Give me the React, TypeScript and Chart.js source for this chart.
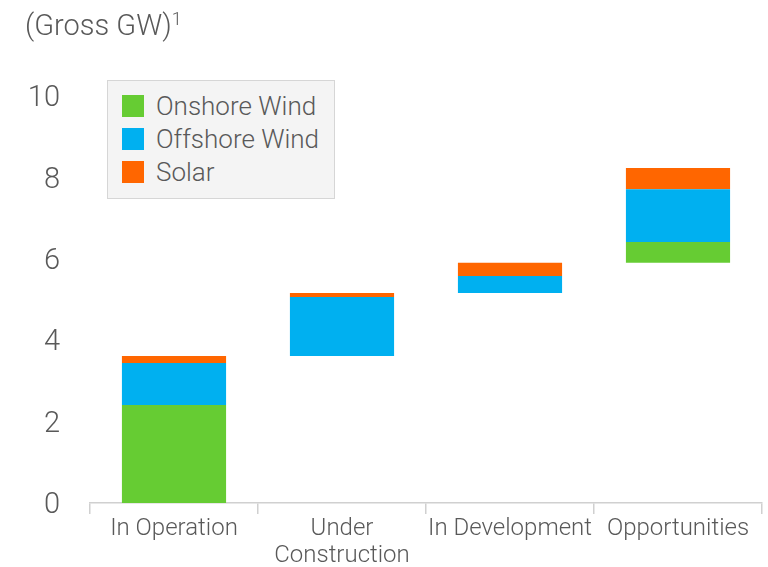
import React, { useEffect, useRef } from "react";
import { Chart, registerables } from "chart.js";

Chart.register(...registerables);

const categories: (string | string[])[] = ["In Operation", ["Under", "Construction"], "In Development", "Opportunities"];
const seriesNames = ["Onshore Wind", "Offshore Wind", "Solar"];
const onshore = [2.41, 0, 0, 0.51];
const offshore = [1.03, 1.45, 0.42, 1.3];
const solar = [0.17, 0.1, 0.32, 0.52];
const yTicks = [0, 2, 4, 6, 8, 10];
const colors = ["#66CC33", "#00B0F0", "#FF6600"];

const TEXT = "#595959";
const FONT = "Roboto, 'Liberation Sans', Arial, sans-serif";

function buildRanges() {
  const series = [onshore, offshore, solar];
  const out: (number[] | null)[][] = series.map(() => []);
  let base = 0;
  for (let i = 0; i < categories.length; i++) {
    let cur = base;
    series.forEach((s, k) => {
      const v = s[i];
      out[k].push(v > 0 ? [cur, cur + v] : null);
      cur += v;
    });
    base = cur;
  }
  return out;
}

export default function App() {
  const ref = useRef<HTMLCanvasElement | null>(null);
  useEffect(() => {
    document.body.style.margin = "0";
    const ranges = buildRanges();
    const chart = new Chart(ref.current!, {
      type: "bar",
      data: {
        labels: categories as any,
        datasets: seriesNames.map((n, k) => ({
          label: n,
          data: ranges[k] as any,
          backgroundColor: colors[k],
          borderWidth: 0,
          barPercentage: 0.62,
          categoryPercentage: 1,
        })),
      },
      options: {
        responsive: false,
        animation: false,
        layout: { padding: { left: 0, right: 6, top: 96, bottom: 0 } },
        plugins: { legend: { display: false }, tooltip: { enabled: false }, title: { display: false } },
        scales: {
          x: {
            stacked: true,
            grid: { offset: true, drawOnChartArea: false, drawTicks: true, tickLength: 11, color: "#d0d0d0", lineWidth: 1.5 },
            border: { display: true, color: "#d0d0d0", width: 1.5 },
            ticks: {
              color: TEXT,
              padding: 2,
              maxRotation: 0,
              autoSkip: false,
              font: { family: FONT, size: 24, weight: 300 as any, lineHeight: 1.1 },
            },
            afterFit: (s: any) => { s.height = 64; },
          },
          y: {
            stacked: false,
            min: yTicks[0],
            max: yTicks[yTicks.length - 1],
            afterBuildTicks: (s: any) => { s.ticks = yTicks.map((v) => ({ value: v })); },
            grid: { display: false, drawTicks: false },
            border: { display: false },
            ticks: {
              color: TEXT,
              padding: 30,
              labelOffset: 3,
              font: { family: FONT, size: 29, weight: 300 as any },
            },
            afterFit: (s: any) => { s.width = 90; },
          },
        },
      },
    });
    return () => chart.destroy();
  }, []);

  return (
    <div style={{ position: "absolute", left: 0, top: 0, width: 768, height: 567, fontFamily: FONT, fontWeight: 300, color: TEXT }}>
      <canvas ref={ref} width={768} height={567} />
      <div style={{ position: "absolute", left: 25, top: 7, fontSize: 29, lineHeight: "36px", whiteSpace: "nowrap" }}>
        (Gross GW)<sup style={{ fontSize: 18, verticalAlign: "top", lineHeight: "24px" }}>1</sup>
      </div>
      <div style={{ position: "absolute", left: 107, top: 80, width: 226, height: 117, background: "#f4f4f4", border: "1px solid #d6d6d6", boxSizing: "content-box" }}>
        {seriesNames.map((n, k) => (
          <div key={n} style={{ position: "absolute", left: 14, top: 12 + k * 33, height: 26, display: "flex", alignItems: "center", whiteSpace: "nowrap" }}>
            <span style={{ display: "inline-block", width: 22, height: 22, background: colors[k], marginRight: 12 }} />
            <span style={{ fontSize: 26 }}>{n}</span>
          </div>
        ))}
      </div>
    </div>
  );
}
